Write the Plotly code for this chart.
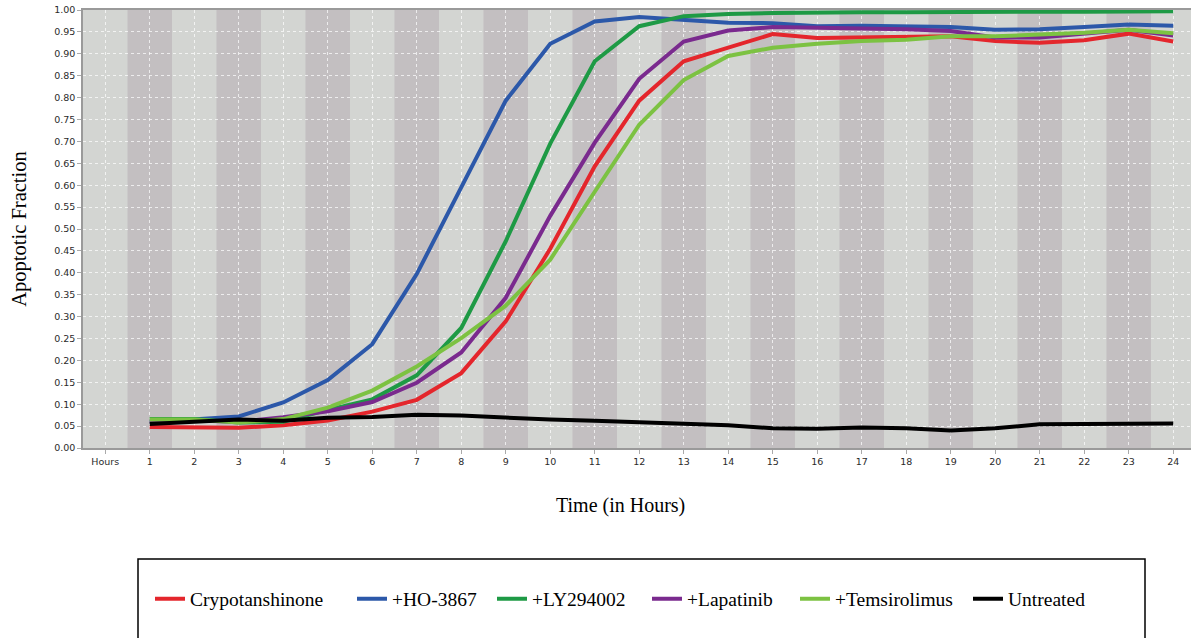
import plotly.graph_objects as go

hours = list(range(1, 25))
tick_labels = ["Hours"] + [str(h) for h in hours]

crypotanshinone = [0.048, 0.048, 0.046, 0.052, 0.063, 0.083, 0.110, 0.171, 0.289, 0.455, 0.643, 0.793,
                   0.883, 0.914, 0.945, 0.936, 0.937, 0.938, 0.940, 0.929, 0.925, 0.931, 0.946, 0.928]
ho3867 = [0.059, 0.066, 0.072, 0.104, 0.155, 0.237, 0.397, 0.595, 0.793, 0.923, 0.974, 0.984,
          0.978, 0.971, 0.970, 0.963, 0.964, 0.962, 0.961, 0.955, 0.956, 0.961, 0.967, 0.964]
ly294002 = [0.066, 0.066, 0.058, 0.060, 0.087, 0.111, 0.166, 0.274, 0.472, 0.695, 0.883, 0.963,
            0.986, 0.991, 0.993, 0.995, 0.995, 0.995, 0.996, 0.995, 0.996, 0.996, 0.997, 0.997]
lapatinib = [0.062, 0.063, 0.060, 0.070, 0.084, 0.105, 0.149, 0.218, 0.343, 0.530, 0.697, 0.843,
             0.928, 0.953, 0.961, 0.960, 0.959, 0.956, 0.952, 0.937, 0.937, 0.945, 0.955, 0.942]
temsirolimus = [0.065, 0.065, 0.058, 0.066, 0.092, 0.131, 0.186, 0.251, 0.325, 0.430, 0.585, 0.738,
                0.840, 0.895, 0.914, 0.923, 0.929, 0.932, 0.940, 0.940, 0.944, 0.948, 0.955, 0.947]
untreated = [0.055, 0.060, 0.065, 0.062, 0.069, 0.071, 0.076, 0.074, 0.069, 0.065, 0.062, 0.058,
             0.055, 0.052, 0.045, 0.044, 0.047, 0.045, 0.040, 0.045, 0.054, 0.055, 0.055, 0.056]

series_names = ["Crypotanshinone", "+HO-3867", "+LY294002", "+Lapatinib", "+Temsirolimus", "Untreated"]
series_values = [crypotanshinone, ho3867, ly294002, lapatinib, temsirolimus, untreated]
series_colors = ["#e4262c", "#2c58a9", "#1e9a45", "#7a2a8e", "#7cc242", "#000000"]

# layout in pixels
L, R, T, B = 83, 0, 10, 190
W = 1191 - L - R
H = 638 - T - B
def px_x(p):
    return (p - L) / W
def px_y(p):
    return (638 - B - p) / H

legend_left_px = [150, 352, 492, 647, 795, 968]
legend_keys = ["legend", "legend2", "legend3", "legend4", "legend5", "legend6"]

fig = go.Figure()
for name, vals, col, lk in zip(series_names, series_values, series_colors, legend_keys):
    fig.add_trace(go.Scatter(x=hours, y=vals, mode="lines", name=name, legend=lk,
                             line=dict(color=col, width=4)))

shapes = []
for k in range(len(tick_labels)):
    if k % 2 == 1:
        shapes.append(dict(type="rect", xref="x", yref="paper", x0=k - 0.5, x1=k + 0.5,
                           y0=0, y1=1, fillcolor="#c3bfc1", line=dict(width=0), layer="below"))
shapes.append(dict(type="rect", xref="paper", yref="paper", x0=px_x(138), x1=px_x(1145),
                   y0=px_y(559), y1=px_y(645), line=dict(color="black", width=1.5),
                   fillcolor="rgba(0,0,0,0)"))

legend_layouts = {}
for lk, lx in zip(legend_keys, legend_left_px):
    legend_layouts[lk] = dict(orientation="h", x=px_x(lx), y=px_y(599), xanchor="left",
                              yanchor="middle",
                              font=dict(family="Liberation Serif", size=19.5, color="black"),
                              bgcolor="rgba(0,0,0,0)", itemwidth=30)

tickfont = dict(family="DejaVu Sans", size=9.5, color="#2a2a2a")
fig.update_layout(
    width=1191, height=638,
    margin=dict(l=L, r=R, t=T, b=B),
    paper_bgcolor="white",
    plot_bgcolor="#d3d5d2",
    shapes=shapes,
    showlegend=True,
    xaxis=dict(range=[-0.5, 24.4], tickmode="array", tickvals=list(range(len(tick_labels))),
               ticktext=tick_labels, tickfont=tickfont, ticks="outside", ticklen=4,
               tickcolor="#aaaaaa", showgrid=True, gridcolor="rgba(255,255,255,0.7)",
               griddash="dot", gridwidth=1, showline=True, linecolor="#9a9a9a", linewidth=1.5,
               mirror=True, zeroline=False),
    yaxis=dict(range=[0, 1], dtick=0.05, tickformat=".2f", tickfont=tickfont,
               ticks="outside", ticklen=4, tickcolor="#aaaaaa", showgrid=True,
               gridcolor="rgba(255,255,255,0.7)", griddash="dot", gridwidth=1,
               showline=True, linecolor="#9a9a9a", linewidth=1.5, mirror=False, zeroline=False,
               title=dict(text="Apoptotic Fraction", standoff=22,
                          font=dict(family="Liberation Serif", size=20.5, color="black"))),
    annotations=[dict(text="Time (in Hours)", xref="paper", yref="paper",
                      x=px_x(620), y=px_y(505), xanchor="center", yanchor="middle",
                      showarrow=False,
                      font=dict(family="Liberation Serif", size=20, color="black"))],
    **legend_layouts,
)

fig.write_html("out.html")
